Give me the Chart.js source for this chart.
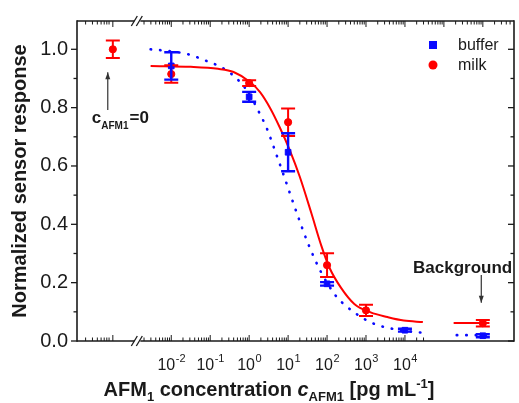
<!DOCTYPE html>
<html><head><meta charset="utf-8">
<script src="https://cdn.jsdelivr.net/npm/chart.js@4/dist/chart.umd.min.js"></script>
<style>html,body{margin:0;padding:0;background:#fff}#wrap{width:519px;height:403px}</style>
</head><body><div id="wrap"><canvas id="c" width="519" height="403"></canvas></div>
<script>
// x positions are log10(c / pg mL^-1); the axis is broken: c=0 and background sit on a separate segment
const xTickValues = [-2, -1, 0, 1, 2, 3, 4];
const xTickBase = '10';
const xTickExponents = ['-2', '-1', '0', '1', '2', '3', '4'];
const yTickValues = [0, 0.2, 0.4, 0.6, 0.8, 1.0];
const yTickLabels = ['0.0', '0.2', '0.4', '0.6', '0.8', '1.0'];

const zeroPos = -3.5;   // where c=0 is drawn
const breakPos = -2.82; // axis break
const bgPos = 6.0;      // where background is drawn

const bufferX = [-2, 0, 1, 2, 4, 6];
const bufferY = [0.943, 0.837, 0.647, 0.196, 0.037, 0.018];
const bufferErr = [0.047, 0.017, 0.065, 0.006, 0.005, 0.005];

const milkX = [-3.5, -2, 0, 1, 2, 3, 6];
const milkY = [1.0, 0.915, 0.884, 0.750, 0.260, 0.105, 0.061];
const milkErr = [0.03, 0.03, 0.01, 0.047, 0.041, 0.019, 0.011];

const bufferFitX = [-2.53, -2.0, -1.54, -1.0, -0.78, -0.5, -0.27, 0.0, 0.2, 0.45, 0.63, 0.87, 1.05, 1.26, 1.51, 1.85, 2.23, 2.45, 2.7, 2.95, 3.21, 3.46, 3.72, 4.0, 4.46];
const bufferFitY = [1.0, 0.993, 0.982, 0.955, 0.943, 0.92, 0.893, 0.848, 0.798, 0.73, 0.665, 0.575, 0.505, 0.425, 0.335, 0.235, 0.154, 0.124, 0.098, 0.076, 0.059, 0.048, 0.041, 0.035, 0.028];
const milkFitX = [-2.53, -1.5, -0.8, -0.4, 0.03, 0.28, 0.54, 0.79, 1.05, 1.3, 1.6, 1.85, 2.06, 2.36, 2.7, 3.12, 3.55, 3.97, 4.46];
const milkFitY = [0.943, 0.940, 0.933, 0.922, 0.887, 0.853, 0.798, 0.731, 0.652, 0.563, 0.437, 0.328, 0.252, 0.182, 0.127, 0.098, 0.082, 0.070, 0.065];
const bufferBgX = [5.33, 6.17];
const bufferBgY = [0.02, 0.02];
const milkBgX = [5.25, 6.17];
const milkBgY = [0.062, 0.062];

const BLUE = 'rgb(10,10,255)';
const RED = 'rgb(255,0,0)';
const INK = '#1a1a1a';
const FONT = "'Liberation Sans', Arial, sans-serif";

const pts = (xs, ys) => xs.map((x, i) => ({x, y: ys[i]}));

const datasets = [
  {label: 'milk', data: pts(milkX, milkY), type: 'scatter', backgroundColor: RED, borderColor: RED, pointStyle: 'circle', pointRadius: 3.6, showLine: false, errors: milkErr, errWidth: 2},
  {label: 'buffer', data: pts(bufferX, bufferY), type: 'scatter', backgroundColor: BLUE, borderColor: BLUE, pointStyle: 'rect', pointRadius: 4, showLine: false, errors: bufferErr, errWidth: 2.4},
  {label: 'milk fit', data: pts(milkFitX, milkFitY), type: 'line', borderColor: RED, borderWidth: 2, pointRadius: 0, cubicInterpolationMode: 'monotone', fill: false},
  {label: 'milk bg fit', data: pts(milkBgX, milkBgY), type: 'line', borderColor: RED, borderWidth: 2, pointRadius: 0, fill: false},
  {label: 'buffer fit', data: pts(bufferFitX, bufferFitY), type: 'line', borderColor: BLUE, borderWidth: 2.6, borderDash: [0.5, 9], borderCapStyle: 'round', pointRadius: 0, cubicInterpolationMode: 'monotone', fill: false},
  {label: 'buffer bg fit', data: pts(bufferBgX, bufferBgY), type: 'line', borderColor: BLUE, borderWidth: 2.6, borderDash: [0.5, 9], borderCapStyle: 'round', pointRadius: 0, fill: false}
];

function arrow(ctx, x, y0, y1) {
  ctx.beginPath(); ctx.moveTo(x, y0); ctx.lineTo(x, y1); ctx.stroke();
  const d = y1 > y0 ? 1 : -1;
  ctx.beginPath(); ctx.moveTo(x, y1); ctx.lineTo(x - 2.5, y1 - d * 7); ctx.lineTo(x + 2.5, y1 - d * 7); ctx.closePath(); ctx.fill();
}

const errorBars = {
  id: 'errorBars',
  afterDatasetsDraw(chart) {
    const {ctx, scales: {x, y}} = chart;
    ctx.save();
    chart.data.datasets.forEach(ds => {
      if (!ds.errors) return;
      ctx.strokeStyle = ds.borderColor; ctx.lineWidth = ds.errWidth;
      ds.data.forEach((p, i) => {
        const e = ds.errors[i];
        const px = x.getPixelForValue(p.x);
        const t = y.getPixelForValue(p.y + e), b = y.getPixelForValue(p.y - e);
        ctx.beginPath();
        ctx.moveTo(px, t); ctx.lineTo(px, b);
        ctx.moveTo(px - 7, t); ctx.lineTo(px + 7, t);
        ctx.moveTo(px - 7, b); ctx.lineTo(px + 7, b);
        ctx.stroke();
      });
    });
    ctx.restore();
  }
};

const frame = {
  id: 'frame',
  afterDraw(chart) {
    const {ctx, chartArea: a, scales: {x, y}} = chart;
    ctx.save();
    ctx.strokeStyle = INK; ctx.fillStyle = INK; ctx.lineWidth = 1.6;
    const bx = x.getPixelForValue(breakPos);
    const L = (x0, y0, x1, y1) => { ctx.beginPath(); ctx.moveTo(x0, y0); ctx.lineTo(x1, y1); ctx.stroke(); };
    L(a.left, a.top - 0.8, a.left, a.bottom + 0.8);
    L(a.right, a.top - 0.8, a.right, a.bottom + 0.8);
    [a.top, a.bottom].forEach(yy => {
      L(a.left, yy, bx - 5, yy);
      L(bx + 1, yy, a.right, yy);
      ctx.lineWidth = 1.3;
      L(bx - 8, yy + 5, bx - 2, yy - 5);
      L(bx - 3, yy + 5, bx + 3, yy - 5);
      ctx.lineWidth = 1.6;
    });
    // y ticks: outward on left, inward on right
    ctx.lineWidth = 1.3;
    for (let k = 0; k <= 10; k++) {
      const v = k / 10, py = y.getPixelForValue(v), len = k % 2 === 0 ? 6 : 3.5;
      L(a.left - len, py, a.left, py);
      L(a.right - len, py, a.right, py);
    }
    // x ticks (inward) on top and bottom axes
    ctx.lineWidth = 1;
    const xt = [];
    xt.push({v: zeroPos, major: true});
    for (let k = 2; k <= 8; k++) xt.push({v: zeroPos - 1 + Math.log10(k), major: false});
    for (let n = -3; n <= 7; n++) {
      xt.push({v: n, major: true});
      for (let k = 2; k <= 9; k++) xt.push({v: n + Math.log10(k), major: false});
    }
    xt.forEach(t => {
      const px = x.getPixelForValue(t.v);
      if (px < a.left + 4 || px > a.right - 2) return;
      if (t.v > zeroPos + 0.1 && t.v < breakPos + 0.1) return;
      const len = t.major ? 6 : 3.5;
      L(px, a.top, px, a.top + len);
      if (t.v < 4.6) L(px, a.bottom, px, a.bottom - len);
    });
    // x tick labels: 10 with superscript exponent, at the scale's tick positions
    ctx.fillStyle = INK; ctx.textBaseline = 'alphabetic'; ctx.textAlign = 'left';
    x.ticks.forEach(t => {
      const i = xTickValues.indexOf(t.value);
      if (i < 0) return;
      const px = x.getPixelForValue(t.value);
      ctx.font = '16px ' + FONT; const wb = ctx.measureText(xTickBase).width;
      ctx.font = '11px ' + FONT; const we = ctx.measureText(xTickExponents[i]).width;
      const sx = px - (wb + we) / 2;
      ctx.font = '16px ' + FONT; ctx.fillText(xTickBase, sx, a.bottom + 29);
      ctx.font = '11px ' + FONT; ctx.fillText(xTickExponents[i], sx + wb + 0.5, a.bottom + 21);
    });
    // annotations
    ctx.lineWidth = 1.2; ctx.strokeStyle = '#333'; ctx.fillStyle = '#333';
    arrow(ctx, x.getPixelForValue(-3.63), y.getPixelForValue(0.792), y.getPixelForValue(0.921));
    arrow(ctx, x.getPixelForValue(5.96), y.getPixelForValue(0.226), y.getPixelForValue(0.131));
    ctx.fillStyle = INK;
    ctx.textBaseline = 'alphabetic'; ctx.textAlign = 'left';
    let tx = x.getPixelForValue(-4.04), ty = y.getPixelForValue(0.748);
    ctx.font = 'bold 17px ' + FONT; ctx.fillText('c', tx, ty); tx += ctx.measureText('c').width;
    ctx.font = 'bold 10px ' + FONT; ctx.fillText('AFM1', tx, ty + 6); tx += ctx.measureText('AFM1').width + 1;
    ctx.font = 'bold 17px ' + FONT; ctx.fillText('=0', tx, ty);
    ctx.textAlign = 'center';
    ctx.font = 'bold 17px ' + FONT; ctx.fillText('Background', x.getPixelForValue(5.48), y.getPixelForValue(0.2315));
    // legend
    ctx.textAlign = 'left'; ctx.textBaseline = 'middle';
    ctx.font = '16px ' + FONT;
    ctx.fillStyle = BLUE; ctx.fillRect(429, 41, 8, 8);
    ctx.fillStyle = RED; ctx.beginPath(); ctx.arc(433, 65, 4.5, 0, Math.PI * 2); ctx.fill();
    ctx.fillStyle = INK;
    ctx.fillText('buffer', 458, 46); ctx.fillText('milk', 458, 66);
    // x axis title with sub/superscripts
    const segs = [
      ['AFM', 'bold 20px ', 0], ['1', 'bold 13px ', 5], [' concentration ', 'bold 20px ', 0],
      ['c', 'italic bold 20px ', 0], ['AFM1', 'bold 13px ', 5], [' [pg mL', 'bold 20px ', 0],
      ['-1', 'bold 13px ', -8], [']', 'bold 20px ', 0]
    ];
    ctx.textBaseline = 'alphabetic';
    let total = 0;
    segs.forEach(s => { ctx.font = s[1] + FONT; total += ctx.measureText(s[0]).width; });
    let sx = 269 - total / 2;
    segs.forEach(s => { ctx.font = s[1] + FONT; ctx.fillText(s[0], sx, 396 + s[2]); sx += ctx.measureText(s[0]).width; });
    ctx.restore();
  }
};

new Chart(document.getElementById('c'), {
  type: 'scatter',
  data: {datasets},
  plugins: [errorBars, frame],
  options: {
    responsive: false, animation: false, devicePixelRatio: 1,
    layout: {padding: {top: 14, right: 1, left: 0, bottom: 0}},
    plugins: {legend: {display: false}, tooltip: {enabled: false}},
    scales: {
      x: {
        type: 'linear', min: -4.42, max: 6.8,
        grid: {display: false, drawTicks: false}, border: {display: false},
        afterBuildTicks(s) { s.ticks = xTickValues.map(v => ({value: v})); },
        afterFit(s) { s.height = 62; },
        ticks: {display: false, autoSkip: false, maxRotation: 0}
      },
      y: {
        type: 'linear', min: 0, max: 1.097,
        grid: {display: false, drawTicks: false}, border: {display: false},
        afterBuildTicks(s) { s.ticks = yTickValues.map(v => ({value: v})); },
        afterFit(s) { s.width = 77; },
        ticks: {
          padding: 9, color: INK, font: {family: FONT, size: 20},
          callback: v => { const i = yTickValues.findIndex(t => Math.abs(t - v) < 1e-9); return i >= 0 ? yTickLabels[i] : ''; }
        },
        title: {display: true, text: 'Normalized sensor response', color: INK, font: {family: FONT, size: 20, weight: 'bold'}, padding: {top: 8, bottom: 0}}
      }
    }
  }
});
</script>
</body></html>
